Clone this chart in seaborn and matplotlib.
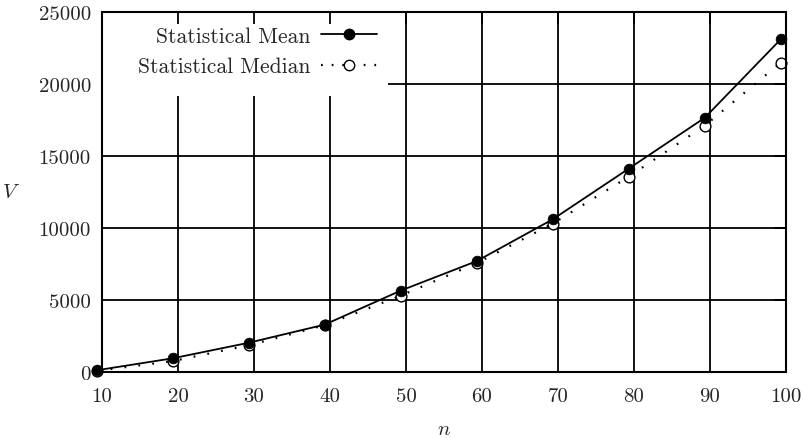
import matplotlib
matplotlib.use("Agg")
import matplotlib.pyplot as plt
from matplotlib.lines import Line2D
from matplotlib.patches import Rectangle
import seaborn as sns

# point positions (sit a little left of the grid lines in the original)
n_vals = [9.3, 19.3, 29.3, 39.3, 49.3, 59.3, 69.3, 79.3, 89.3, 99.3]
mean_vals = [120, 950, 2030, 3290, 5650, 7700, 10600, 14120, 17650, 23100]
median_vals = [80, 760, 1850, 3250, 5300, 7560, 10300, 13560, 17100, 21480]

XTICKS = [10, 20, 30, 40, 50, 60, 70, 80, 90, 100]
YTICKS = [0, 5000, 10000, 15000, 20000, 25000]

sns.set_style("white")
plt.rcParams["font.family"] = ["cmr10", "DejaVu Serif"]
plt.rcParams["mathtext.fontset"] = "cm"
plt.rcParams["axes.formatter.use_mathtext"] = True

fig = plt.figure(figsize=(8.04, 4.39), dpi=100)
ax = fig.add_axes([102 / 804, 1 - 373 / 439, 684 / 804, 360 / 439])

# grid drawn by hand so the key box can hide it while ticks stay on top
for xt in XTICKS:
    ax.axvline(xt, color="black", linewidth=1.3, zorder=1)
for yt in YTICKS:
    ax.axhline(yt, color="black", linewidth=1.3, zorder=1)

# lines (clipped at the frame)
sns.lineplot(x=n_vals, y=mean_vals, ax=ax, color="black", linewidth=1.3,
             linestyle="-", zorder=3)
sns.lineplot(x=n_vals, y=median_vals, ax=ax, color="black", linewidth=1.6,
             linestyle=(0, (0.8, 5.5)), zorder=3)
# markers (not clipped)
sns.scatterplot(x=n_vals, y=median_vals, ax=ax, marker="o", s=60,
                facecolor="white", edgecolor="black", linewidth=1.0,
                clip_on=False, zorder=4)
sns.scatterplot(x=n_vals, y=mean_vals, ax=ax, marker="o", s=60,
                color="black", edgecolor="black", linewidth=0.5,
                clip_on=False, zorder=5)

ax.set_xlim(10, 100)
ax.set_ylim(0, 25000)
ax.set_xticks(XTICKS)
ax.set_yticks(YTICKS)
ax.set_xticklabels([str(t) for t in XTICKS])
ax.set_yticklabels([str(t) for t in YTICKS])
for s in ax.spines.values():
    s.set_color("black")
    s.set_linewidth(1.5)
    s.set_zorder(8)
ax.tick_params(axis="both", which="both", direction="in", length=8.5, width=1.3,
               labelsize=15, top=True, right=True, color="black")
ax.tick_params(axis="x", pad=11)
ax.tick_params(axis="y", pad=8)
ax.xaxis.set_zorder(7)
ax.yaxis.set_zorder(7)

ax.set_xlabel("$n$", fontsize=15, va="center")
ax.set_ylabel("$V$", fontsize=15, rotation=0, ha="center", va="center")
ax.xaxis.set_label_coords(0.5, -0.158)
ax.yaxis.set_label_coords(-0.133, 0.5)

# white key box (hides the grid behind the key)
ax.add_patch(Rectangle((0, 0.767), 0.418, 0.233, transform=ax.transAxes,
                       facecolor="white", edgecolor="none", zorder=6))

handles = [
    Line2D([], [], color="black", linewidth=1.3, marker="o", markersize=7.5,
           markerfacecolor="black"),
    Line2D([], [], color="black", linewidth=1.6, linestyle=(0, (0.8, 4.0)),
           marker="o", markersize=7.5, markerfacecolor="white",
           markeredgewidth=1.0),
]
leg = ax.legend(handles, ["Statistical Mean", "Statistical Median"],
                loc="upper right", bbox_to_anchor=(0.418, 0.99), markerfirst=False,
                frameon=False, fontsize=15.5, handlelength=2.6,
                handletextpad=0.5, borderpad=0.5, labelspacing=0.5,
                borderaxespad=0.0)
leg.set_zorder(6.5)

fig.savefig("out.png", dpi=100)
